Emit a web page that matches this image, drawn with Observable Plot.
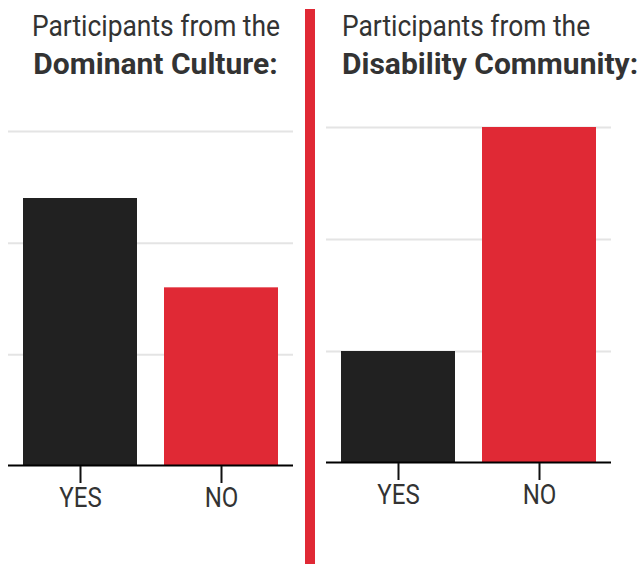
<!DOCTYPE html>
<html>
<head>
<meta charset="utf-8">
<script src="https://cdn.jsdelivr.net/npm/d3@7"></script>
<script src="https://cdn.jsdelivr.net/npm/@observablehq/plot@0.6"></script>
<style>
  html, body { margin: 0; padding: 0; background: #fff; }
  #wrap { position: relative; width: 643px; height: 564px; overflow: hidden; font-family: Roboto, "Noto Sans", sans-serif; color: #333; }
  .title { position: absolute; top: 7px; font-size: 30px; line-height: 38px; white-space: nowrap; z-index: 2; }
  .title .ln { display: block; }
  .title .ln span { display: inline-block; transform: scaleX(0.88); }
  .title .b { font-weight: 700; }
  .title .b span { transform: scaleX(1.0); }
  #t1 { left: 0; width: 311px; text-align: center; }
  #t1 .ln span { transform-origin: center; }
  #t2 { left: 342px; text-align: left; }
  #t2 .ln span { transform-origin: left; }
  #divider { position: absolute; left: 305px; top: 9px; width: 10px; height: 555px; background: #e02935; z-index: 3; }
  .panel { position: absolute; top: 0; }
  #p1 { left: 0; }
  #p2 { left: 318px; }
</style>
</head>
<body>
<div id="wrap">
  <div class="title" id="t1"><span class="ln"><span>Participants from the</span></span><span class="ln b"><span>Dominant Culture:</span></span></div>
  <div class="title" id="t2"><span class="ln"><span>Participants from the</span></span><span class="ln b"><span>Disability Community:</span></span></div>
  <div id="divider"></div>
  <div class="panel" id="p1"></div>
  <div class="panel" id="p2"></div>
</div>
<script>
const categories = ["YES", "NO"];
const dominantValues = [60, 40];
const disabilityValues = [25, 75];
const gridTicks = [25, 50, 75];
const yMax = 75;
const barColors = ["#212121", "#e02935"];

function panel(values, opts) {
  const data = categories.map((c, i) => ({cat: c, value: values[i]}));
  const svg = Plot.plot({
    width: 300,
    height: 564,
    marginTop: opts.top,
    marginBottom: opts.bottom,
    marginLeft: 8,
    marginRight: 7,
    x: {domain: categories, paddingInner: 0.19, paddingOuter: 0.1, label: null, axis: null},
    y: {domain: [0, yMax], axis: null},
    color: {domain: categories, range: barColors},
    style: {fontFamily: "Roboto, sans-serif", background: "transparent", overflow: "visible"},
    marks: [
      Plot.ruleY(gridTicks, {stroke: "#e4e4e4", strokeWidth: 2}),
      Plot.barY(data, {x: "cat", y: "value", fill: "cat"}),
      Plot.ruleY([0], {stroke: "#000", strokeWidth: 2, dy: -1}),
      Plot.axisX({tickSize: 17, tickPadding: 4, stroke: "#111", strokeWidth: 2, fill: "#333", fontSize: 28, label: null})
    ]
  });
  svg.querySelectorAll('g[aria-label="x-axis tick label"] text').forEach(t => {
    const tr = t.getAttribute("transform") || "";
    t.setAttribute("transform", tr + " scale(0.86,1)");
  });
  return svg;
}

document.getElementById("p1").append(panel(dominantValues, {top: 131, bottom: 98}));
document.getElementById("p2").append(panel(disabilityValues, {top: 127, bottom: 101}));
</script>
</body>
</html>
